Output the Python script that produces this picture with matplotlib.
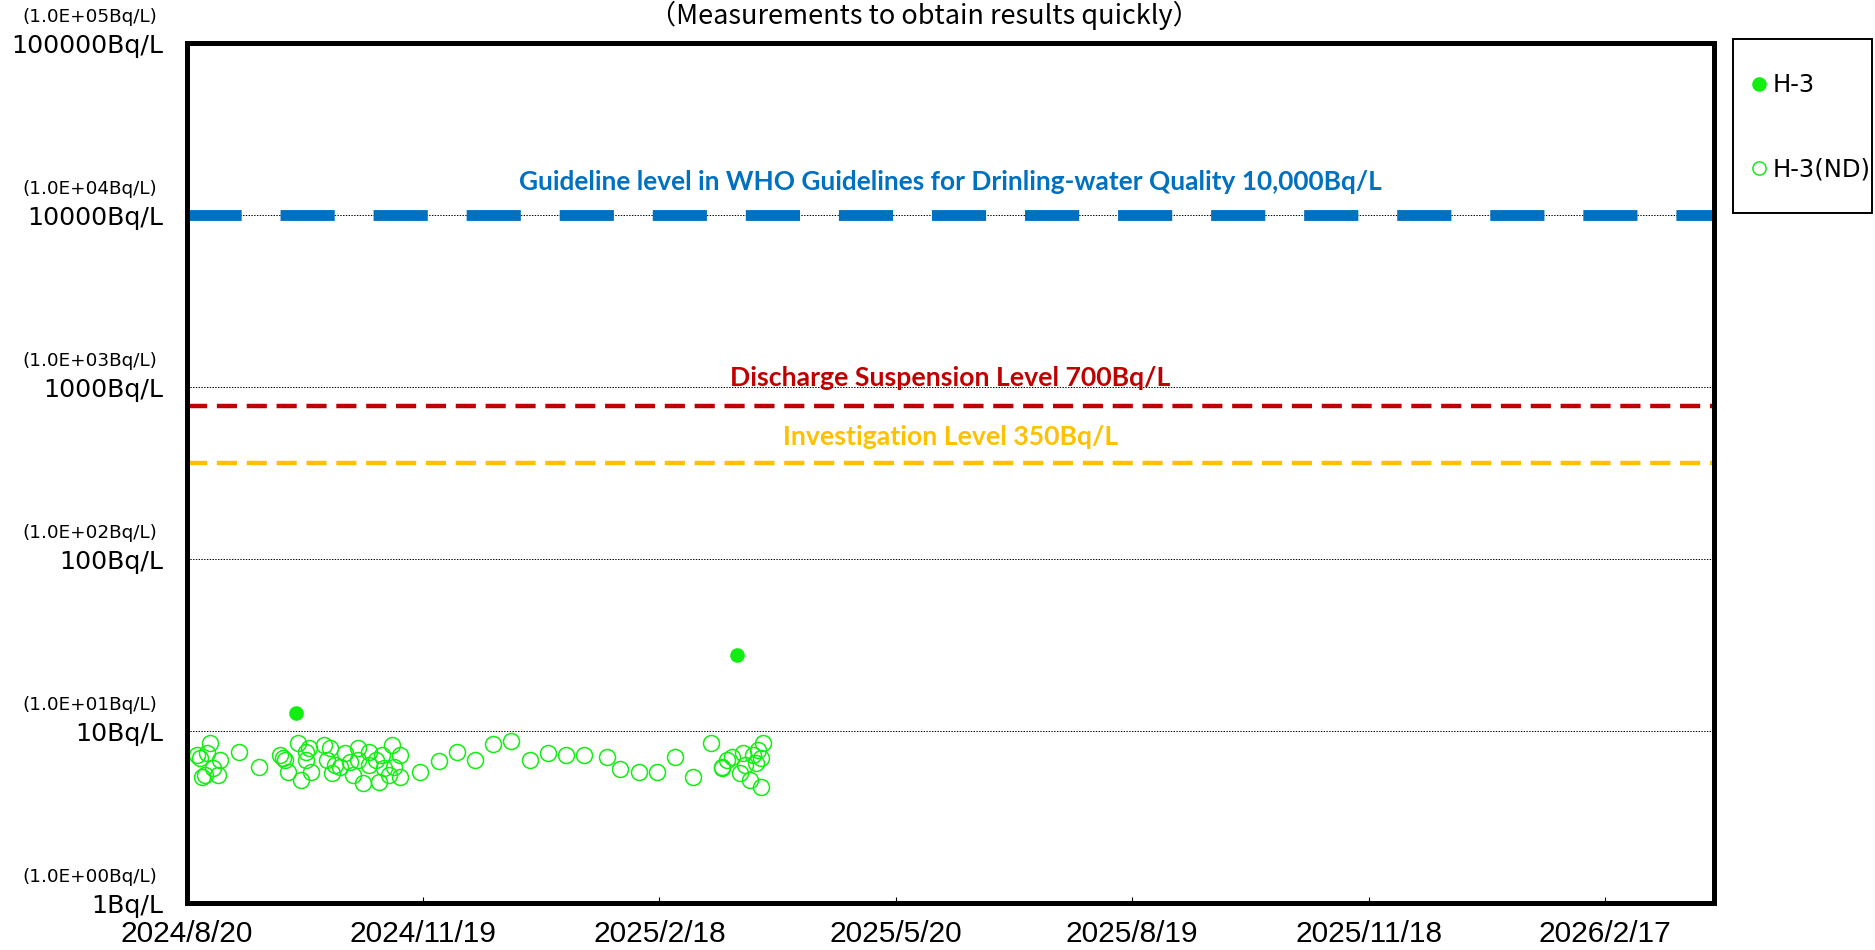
import matplotlib
matplotlib.use("Agg")
import matplotlib.pyplot as plt
from matplotlib.lines import Line2D
from matplotlib.patches import Rectangle
from datetime import datetime, timedelta

# detected H-3
h3_dates = ["2024-10-01", "2025-03-20"]
h3_values = [12.8, 27.7]

# H-3 below detection limit (ND)
nd_dates = [
    "2024-08-24", "2024-08-25", "2024-08-26", "2024-08-27", "2024-08-28", "2024-08-29",
    "2024-08-30", "2024-09-01", "2024-09-02", "2024-09-09", "2024-09-17", "2024-09-25",
    "2024-09-26", "2024-09-27", "2024-09-28", "2024-10-02", "2024-10-03", "2024-10-05",
    "2024-10-05", "2024-10-06", "2024-10-07", "2024-10-12", "2024-10-13", "2024-10-14",
    "2024-10-15", "2024-10-16", "2024-10-18", "2024-10-20", "2024-10-22", "2024-10-23",
    "2024-10-25", "2024-10-25", "2024-10-27", "2024-10-29", "2024-10-29", "2024-11-01",
    "2024-11-02", "2024-11-03", "2024-11-04", "2024-11-06", "2024-11-07", "2024-11-08",
    "2024-11-10", "2024-11-10", "2024-11-18", "2024-11-25", "2024-12-02", "2024-12-09",
    "2024-12-16", "2024-12-23", "2024-12-30", "2025-01-06", "2025-01-13", "2025-01-20",
    "2025-01-29", "2025-02-03", "2025-02-10", "2025-02-17", "2025-02-24", "2025-03-03",
    "2025-03-10", "2025-03-14", "2025-03-14", "2025-03-16", "2025-03-18", "2025-03-21",
    "2025-03-22", "2025-03-23", "2025-03-25", "2025-03-26", "2025-03-27", "2025-03-28",
    "2025-03-29", "2025-03-29", "2025-03-30",
]
nd_values = [
    7.25, 6.94, 5.43, 5.55, 7.42, 8.48,
    6.07, 5.55, 6.78, 7.58, 6.20, 7.25,
    6.94, 6.78, 5.80, 8.48, 5.19, 7.58,
    6.78, 7.93, 5.80, 8.29, 6.78, 7.93,
    5.67, 6.34, 6.20, 7.42, 6.63, 5.55,
    7.93, 6.78, 4.96, 7.58, 6.34, 6.78,
    5.08, 7.25, 6.07, 5.55, 8.29, 6.20,
    5.43, 7.25, 5.80, 6.72, 7.58, 6.78,
    8.37, 8.78, 6.78, 7.48, 7.25, 7.25,
    7.09, 5.99, 5.80, 5.80, 7.09, 5.43,
    8.48, 6.20, 6.07, 6.78, 7.09, 5.67,
    7.42, 6.34, 5.19, 7.25, 6.48, 7.75,
    6.94, 4.75, 8.48,
]

who_level = 10000
discharge_level = 780
investigation_level = 360

y_ticks = [1, 10, 100, 1000, 10000, 100000]
y_labels = ["1Bq/L", "10Bq/L", "100Bq/L", "1000Bq/L", "10000Bq/L", "100000Bq/L"]
y_sublabels = ["(1.0E+00Bq/L)", "(1.0E+01Bq/L)", "(1.0E+02Bq/L)",
               "(1.0E+03Bq/L)", "(1.0E+04Bq/L)", "(1.0E+05Bq/L)"]

x_start = datetime(2024, 8, 20)
x_end = datetime(2026, 3, 31)

plt.rcParams["lines.scale_dashes"] = False
green = "#11EE11"

fig = plt.figure(figsize=(18.75, 9.5), dpi=100)
ax = fig.add_axes([186.7 / 1875, 1 - 903 / 950, (1714 - 186.7) / 1875, (903 - 43) / 950])

to_dt = lambda s: datetime.strptime(s, "%Y-%m-%d")

for lv in y_ticks[1:-1]:
    ax.axhline(lv, color="black", lw=0.7, ls=(0, (1, 1)), zorder=1)

ax.axhline(who_level, color="#0070C0", lw=7.8, dashes=(39, 28), zorder=2)
ax.axhline(discharge_level, color="#C00000", lw=3.2, dashes=(14.5, 7), zorder=2)
ax.axhline(investigation_level, color="#FFC000", lw=3.2, dashes=(14.5, 7), zorder=2)

ax.plot([to_dt(d) for d in nd_dates], nd_values, ls="none", marker="o", ms=11.5,
        mfc="none", mec=green, mew=1.1, zorder=4)
ax.plot([to_dt(d) for d in h3_dates], h3_values, ls="none", marker="o", ms=9.5,
        mfc=green, mec=green, zorder=5)

ax.set_yscale("log")
ax.set_ylim(1, 100000)
ax.set_xlim(x_start, x_end)

ax.set_yticks(y_ticks)
ax.set_yticklabels(y_labels, fontsize=18.2, family="DejaVu Sans")
ax.yaxis.set_minor_locator(matplotlib.ticker.NullLocator())
ax.tick_params(axis="y", length=0, pad=17)
for lv, sub in zip(y_ticks, y_sublabels):
    ax.annotate(sub, xy=(0, lv), xycoords=("axes fraction", "data"),
                xytext=(-21, 18.5), textcoords="offset points",
                ha="right", va="center", fontsize=13.2, annotation_clip=False)

x_ticks = [x_start + timedelta(days=91 * i) for i in range(7)]
ax.set_xticks(x_ticks)
ax.set_xticklabels([f"{d.year}/{d.month}/{d.day}" for d in x_ticks],
                   fontsize=21.5, family="Liberation Sans")
ax.tick_params(axis="x", direction="in", length=4, width=0.8, pad=12)

for sp in ax.spines.values():
    sp.set_linewidth(3.6)
    sp.set_zorder(6)

ax.text(0.5, 15560, "Guideline level in WHO Guidelines for Drinling-water Quality 10,000Bq/L",
        transform=ax.get_yaxis_transform(), ha="center", va="center",
        color="#0070C0", fontsize=18.9, fontweight="bold", family="Lato")
ax.text(0.5, 1128, "Discharge Suspension Level 700Bq/L",
        transform=ax.get_yaxis_transform(), ha="center", va="center",
        color="#C00000", fontsize=19.2, fontweight="bold", family="Lato")
ax.text(0.5, 512, "Investigation Level 350Bq/L",
        transform=ax.get_yaxis_transform(), ha="center", va="center",
        color="#FFC000", fontsize=19.2, fontweight="bold", family="Lato")

fig.text(924 / 1875, 1 - 15 / 950, "（Measurements to obtain results quickly）",
         ha="center", va="center", fontsize=19.5, family=["Noto Sans CJK JP", "DejaVu Sans"])

# legend box
fig.patches.append(Rectangle((1733 / 1875, 1 - 213 / 950), (1872 - 1733) / 1875, 174 / 950,
                             transform=fig.transFigure, fill=False, lw=1.4, ec="black"))
handles = [
    Line2D([], [], ls="none", marker="o", ms=9.5, mfc=green, mec=green),
    Line2D([], [], ls="none", marker="o", ms=9.5, mfc="none", mec=green, mew=1.1),
]
fig.legend(handles, ["H-3", "H-3(ND)"], loc="center left",
           bbox_to_anchor=(1752 / 1875, 1 - 127.5 / 950), frameon=False,
           fontsize=17.5, handlelength=0.6, handletextpad=0.25, labelspacing=2.5,
           borderpad=0, borderaxespad=0)

fig.savefig("out.png", dpi=100)
